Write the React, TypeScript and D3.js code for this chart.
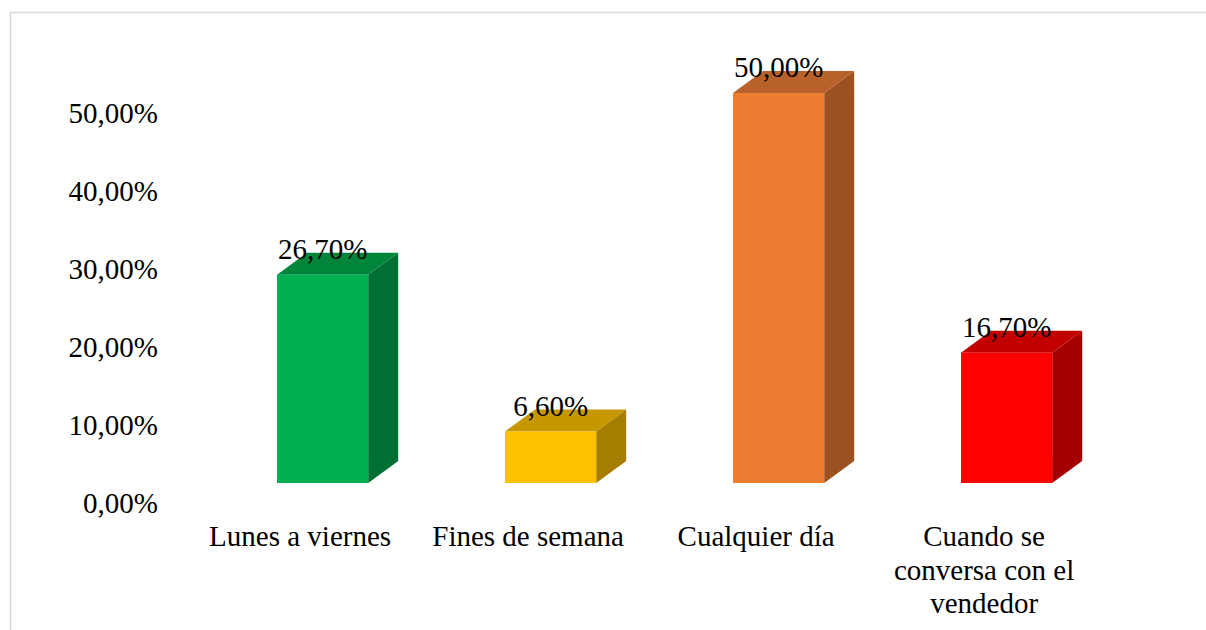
import React, { useRef, useEffect } from 'react';
import * as d3 from 'd3';

// chart data
const categories = ['Lunes a viernes', 'Fines de semana', 'Cualquier día', 'Cuando se conversa con el vendedor'];
const values = [26.7, 6.6, 50.0, 16.7];
const yTicks = [0, 10, 20, 30, 40, 50];

// colours per bar: front / top / side
const frontColors = ['#00B050', '#FFC000', '#ED7D31', '#FF0000'];
const topColors = ['#00853B', '#C79700', '#B9612A', '#C20000'];
const sideColors = ['#006F33', '#A57D00', '#9C5220', '#A50000'];

const fmt = (v: number) => v.toFixed(2).replace('.', ',') + '%';

const App = () => {
  const svgRef = useRef<SVGSVGElement>(null);

  useEffect(() => {
    const width = 1206, height = 630;
    const svg = d3.select(svgRef.current);
    svg.selectAll('*').remove();
    svg.attr('width', width).attr('height', height);

    const font = '"Liberation Serif", "Times New Roman", serif';
    const fontSize = 29;
    const depthX = 30, depthY = -22;

    // chart frame
    svg.append('rect')
      .attr('x', 10.5).attr('y', 12.5)
      .attr('width', 1300).attr('height', 700)
      .attr('fill', 'white')
      .attr('stroke', '#d9d9d9')
      .attr('stroke-width', 1.5);

    var y = d3.scaleLinear()
      .domain([0, 50])
      .range([483, 93]);

    var x = d3.scaleBand<string>()
      .domain(categories)
      .range([163, 1166.2])
      .paddingInner(0.6)
      .paddingOuter(0.5);

    // y axis labels (no line, no ticks)
    svg.append('g')
      .selectAll('text')
      .data(yTicks)
      .enter()
      .append('text')
        .attr('x', 158)
        .attr('y', d => y(d) + 20)
        .attr('dy', '0.35em')
        .attr('text-anchor', 'end')
        .attr('font-family', font)
        .attr('font-size', fontSize)
        .text(d => fmt(d));

    const bars = svg.append('g')
      .selectAll('g')
      .data(values)
      .enter()
      .append('g');

    // side face
    bars.append('path')
      .attr('d', (d, i) => {
        const x1 = x(categories[i])! + x.bandwidth();
        const yt = y(d), yb = y(0);
        return `M${x1},${yt}L${x1 + depthX},${yt + depthY}L${x1 + depthX},${yb + depthY}L${x1},${yb}Z`;
      })
      .attr('fill', (d, i) => sideColors[i]);

    // top face
    bars.append('path')
      .attr('d', (d, i) => {
        const x0 = x(categories[i])!;
        const x1 = x0 + x.bandwidth();
        const yt = y(d);
        return `M${x0},${yt}L${x0 + depthX},${yt + depthY}L${x1 + depthX},${yt + depthY}L${x1},${yt}Z`;
      })
      .attr('fill', (d, i) => topColors[i]);

    // front face
    bars.append('rect')
      .attr('x', (d, i) => x(categories[i])!)
      .attr('y', d => y(d))
      .attr('width', x.bandwidth())
      .attr('height', d => y(0) - y(d))
      .attr('fill', (d, i) => frontColors[i]);

    // data labels
    svg.append('g')
      .selectAll('text')
      .data(values)
      .enter()
      .append('text')
        .attr('x', (d, i) => x(categories[i])! + x.bandwidth() / 2)
        .attr('y', d => y(d) - 16)
        .attr('text-anchor', 'middle')
        .attr('font-family', font)
        .attr('font-size', fontSize)
        .text(d => fmt(d));

    // category labels, wrapped like the original
    const wrapped = [['Lunes a viernes'], ['Fines de semana'], ['Cualquier día'], ['Cuando se', 'conversa con el', 'vendedor']];
    categories.forEach((c, i) => {
      const cx = x(c)! + x.bandwidth() / 2 - 22.5;
      const t = svg.append('text')
        .attr('x', cx)
        .attr('y', 546)
        .attr('text-anchor', 'middle')
        .attr('font-family', font)
        .attr('font-size', fontSize);
      wrapped[i].forEach((line, k) => {
        t.append('tspan')
          .attr('x', cx)
          .attr('dy', k === 0 ? 0 : 33.5)
          .text(line);
      });
    });
  }, []);

  return (
    <div style={{ position: 'absolute', left: 0, top: 0 }}>
      <svg ref={svgRef} style={{ display: 'block' }} />
    </div>
  );
};

export default App;
